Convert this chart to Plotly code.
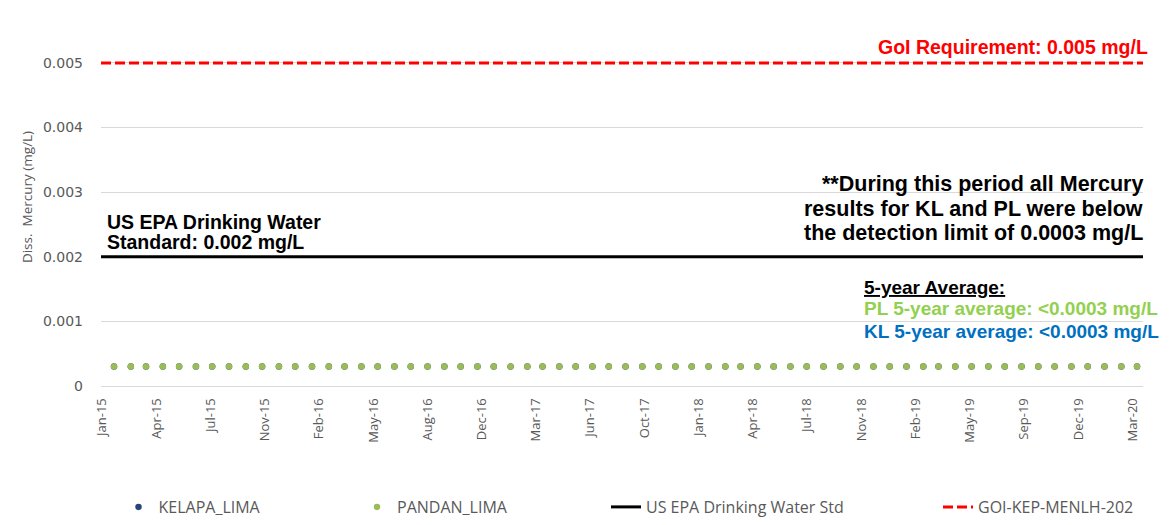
import plotly.graph_objects as go

# ---------------- data ----------------
SAMPLE_DATES = [
    "2015-01-27", "2015-02-27", "2015-03-27", "2015-04-27", "2015-05-27", "2015-06-27",
    "2015-07-27", "2015-08-27", "2015-09-27", "2015-10-27", "2015-11-27", "2015-12-27",
    "2016-01-27", "2016-02-27", "2016-03-27", "2016-04-27", "2016-05-27", "2016-06-27",
    "2016-07-27", "2016-08-27", "2016-09-27", "2016-10-27", "2016-11-27", "2016-12-27",
    "2017-01-27", "2017-02-27", "2017-03-27", "2017-04-27", "2017-05-27", "2017-06-27",
    "2017-07-27", "2017-08-27", "2017-09-27", "2017-10-27", "2017-11-27", "2017-12-27",
    "2018-01-27", "2018-02-27", "2018-03-27", "2018-04-27", "2018-05-27", "2018-06-27",
    "2018-07-27", "2018-08-27", "2018-09-27", "2018-10-27", "2018-11-27", "2018-12-27",
    "2019-01-27", "2019-02-27", "2019-03-27", "2019-04-27", "2019-05-27", "2019-06-27",
    "2019-07-27", "2019-08-27", "2019-09-27", "2019-10-27", "2019-11-27", "2019-12-27",
    "2020-01-27", "2020-02-27", "2020-03-27",
]

KELAPA_LIMA = [
    0.0003, 0.0003, 0.0003, 0.0003, 0.0003, 0.0003, 0.0003, 0.0003, 0.0003, 0.0003, 0.0003, 0.0003,
    0.0003, 0.0003, 0.0003, 0.0003, 0.0003, 0.0003, 0.0003, 0.0003, 0.0003, 0.0003, 0.0003, 0.0003,
    0.0003, 0.0003, 0.0003, 0.0003, 0.0003, 0.0003, 0.0003, 0.0003, 0.0003, 0.0003, 0.0003, 0.0003,
    0.0003, 0.0003, 0.0003, 0.0003, 0.0003, 0.0003, 0.0003, 0.0003, 0.0003, 0.0003, 0.0003, 0.0003,
    0.0003, 0.0003, 0.0003, 0.0003, 0.0003, 0.0003, 0.0003, 0.0003, 0.0003, 0.0003, 0.0003, 0.0003,
    0.0003, 0.0003, 0.0003,
]

PANDAN_LIMA = [
    0.0003, 0.0003, 0.0003, 0.0003, 0.0003, 0.0003, 0.0003, 0.0003, 0.0003, 0.0003, 0.0003, 0.0003,
    0.0003, 0.0003, 0.0003, 0.0003, 0.0003, 0.0003, 0.0003, 0.0003, 0.0003, 0.0003, 0.0003, 0.0003,
    0.0003, 0.0003, 0.0003, 0.0003, 0.0003, 0.0003, 0.0003, 0.0003, 0.0003, 0.0003, 0.0003, 0.0003,
    0.0003, 0.0003, 0.0003, 0.0003, 0.0003, 0.0003, 0.0003, 0.0003, 0.0003, 0.0003, 0.0003, 0.0003,
    0.0003, 0.0003, 0.0003, 0.0003, 0.0003, 0.0003, 0.0003, 0.0003, 0.0003, 0.0003, 0.0003, 0.0003,
    0.0003, 0.0003, 0.0003,
]

STD_DATES = ["2015-01-03", "2020-04-07"]
US_EPA_STD = [0.002, 0.002]
GOI_STD = [0.005, 0.005]

TICK_DATES = [
    "2015-01-05", "2015-04-15", "2015-07-24", "2015-11-01", "2016-02-09", "2016-05-19",
    "2016-08-27", "2016-12-05", "2017-03-15", "2017-06-23", "2017-10-01", "2018-01-09",
    "2018-04-19", "2018-07-28", "2018-11-05", "2019-02-13", "2019-05-24", "2019-09-01",
    "2019-12-10", "2020-03-19",
]
TICK_LABELS = [
    "Jan-15", "Apr-15", "Jul-15", "Nov-15", "Feb-16", "May-16", "Aug-16", "Dec-16",
    "Mar-17", "Jun-17", "Oct-17", "Jan-18", "Apr-18", "Jul-18", "Nov-18", "Feb-19",
    "May-19", "Sep-19", "Dec-19", "Mar-20",
]
Y_TICKS = [0, 0.001, 0.002, 0.003, 0.004, 0.005, 0.006]
Y_TICK_LABELS = ["0", "0.001", "0.002", "0.003", "0.004", "0.005", "0.006"]

# ---------------- layout helpers ----------------
# The page body adds an 8px offset; page coordinates below are converted.
OFF = 8
W, H = 1175, 525
ML, MR, MT, MB = 93, 40, 0, 147
PW, PH = W - ML - MR, H - MT - MB
Y_MAX = 0.005851


def px_x(px):
    return (px - OFF - ML) / PW


def px_y(py):
    return (MT + PH - (py - OFF)) / PH


GRAY = "#595959"
fig = go.Figure()

fig.add_trace(go.Scatter(
    x=SAMPLE_DATES, y=KELAPA_LIMA, mode="markers", name="KELAPA_LIMA",
    marker=dict(color="#264478", size=6.5), legend="legend",
))
fig.add_trace(go.Scatter(
    x=SAMPLE_DATES, y=PANDAN_LIMA, mode="markers", name="PANDAN_LIMA",
    marker=dict(color="#9BBB59", size=6.5), legend="legend2",
))
fig.add_trace(go.Scatter(
    x=STD_DATES, y=US_EPA_STD, mode="lines", name="US EPA Drinking Water Std",
    line=dict(color="#000000", width=3), legend="legend3",
))
fig.add_trace(go.Scatter(
    x=STD_DATES, y=GOI_STD, mode="lines", name="GOI-KEP-MENLH-202",
    line=dict(color="#FF0000", width=3, dash="10px,4px"), legend="legend4",
))

legend_font = dict(family="Open Sans", size=16, color=GRAY)
legend_common = dict(orientation="h", yanchor="middle", y=px_y(507), xanchor="left",
                     font=legend_font, bgcolor="rgba(0,0,0,0)", borderwidth=0)

bold = "Liberation Sans"
annos = [
    dict(text="<b>GoI Requirement: 0.005 mg/L</b>", x=px_x(1150), y=px_y(46.7), xanchor="right",
         font=dict(family=bold, size=19.5, color="#FF0000")),
    dict(text="<b>**During this period all Mercury</b>", x=px_x(1145), y=px_y(184), xanchor="right",
         font=dict(family=bold, size=21.5, color="#000000")),
    dict(text="<b>results for KL and PL were below</b>", x=px_x(1145), y=px_y(208.5), xanchor="right",
         font=dict(family=bold, size=21.5, color="#000000")),
    dict(text="<b>the detection limit of 0.0003 mg/L</b>", x=px_x(1145), y=px_y(233), xanchor="right",
         font=dict(family=bold, size=21.5, color="#000000")),
    dict(text="<b>US EPA Drinking Water</b>", x=px_x(105), y=px_y(221.7), xanchor="left",
         font=dict(family=bold, size=19.5, color="#000000")),
    dict(text="<b>Standard: 0.002 mg/L</b>", x=px_x(105), y=px_y(241.7), xanchor="left",
         font=dict(family=bold, size=19.5, color="#000000")),
    dict(text="<b><u>5-year Average:</u></b>", x=px_x(862), y=px_y(287), xanchor="left",
         font=dict(family=bold, size=19, color="#000000")),
    dict(text="<b>PL 5-year average: <0.0003 mg/L</b>", x=px_x(862), y=px_y(308), xanchor="left",
         font=dict(family=bold, size=19, color="#92D050")),
    dict(text="<b>KL 5-year average: <0.0003 mg/L</b>", x=px_x(862), y=px_y(331.7), xanchor="left",
         font=dict(family=bold, size=19, color="#0070C0")),
]
for a in annos:
    a.update(xref="paper", yref="paper", yanchor="middle", showarrow=False)

fig.update_layout(
    width=W, height=H,
    margin=dict(l=ML, r=MR, t=MT, b=MB, autoexpand=False),
    paper_bgcolor="white", plot_bgcolor="white",
    showlegend=True,
    legend=dict(x=px_x(118.5), **legend_common),
    legend2=dict(x=px_x(357), **legend_common),
    legend3=dict(x=px_x(606), **legend_common),
    legend4=dict(x=px_x(938), **legend_common),
    annotations=annos,
    xaxis=dict(
        type="date", range=[STD_DATES[0], STD_DATES[1]],
        tickmode="array", tickvals=TICK_DATES, ticktext=TICK_LABELS,
        tickangle=-90, tickfont=dict(family="Open Sans", size=13, color=GRAY),
        ticklabelstandoff=6,
        showgrid=False, showline=True, linecolor="#D9D9D9", linewidth=1,
        ticks="", zeroline=False, automargin=False,
    ),
    yaxis=dict(
        range=[0, Y_MAX], tickmode="array", tickvals=Y_TICKS, ticktext=Y_TICK_LABELS,
        tickfont=dict(family="DejaVu Sans", size=14, color=GRAY),
        ticklabelstandoff=17,
        showgrid=True, gridcolor="#D9D9D9", gridwidth=1,
        zeroline=False, showline=False, ticks="", automargin=False,
        title=dict(text="Diss.\u00a0 Mercury (mg/L)", standoff=7,
                   font=dict(family="Open Sans", size=13.5, color=GRAY)),
    ),
)

fig.write_html("out.html")
